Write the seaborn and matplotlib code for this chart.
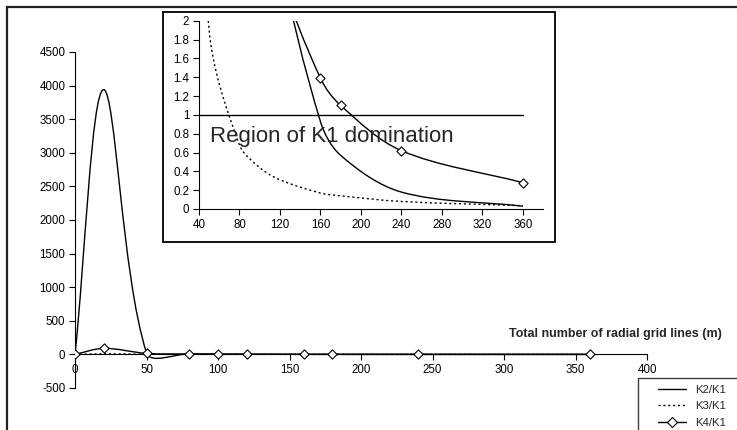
import numpy as np
import matplotlib
matplotlib.use("Agg")
import matplotlib.pyplot as plt
from matplotlib.path import Path
from matplotlib.patches import PathPatch, Rectangle
from matplotlib.lines import Line2D
from matplotlib.ticker import FuncFormatter
import seaborn as sns

# values
m = [0, 20, 50, 80, 100, 120, 160, 180, 240, 360]
k2_k1 = [0, 3940, 25, 8, 4.5, 2.7, 0.93, 0.57, 0.18, 0.03]
k3_k1 = [0, 8, 1.9, 0.68, 0.44, 0.31, 0.17, 0.14, 0.08, 0.035]
k4_k1 = [0, 90, 15, 5, 3.5, 2.5, 1.39, 1.1, 0.62, 0.28]
ref_x = [40, 360]
ref_y = [1, 1]

sns.set_style("white")
plt.rcParams["font.family"] = ["Liberation Sans", "DejaVu Sans"]
plt.rcParams["axes.unicode_minus"] = False

W, H = 737, 430
fig = plt.figure(figsize=(W / 100, H / 100), dpi=100)


def fbox(l, t, r, b):
    # pixel box -> figure fraction [left, bottom, width, height]
    return [l / W, 1 - b / H, (r - l) / W, (b - t) / H]


def smooth(ax, x, y, **kw):
    # excel-style smoothed line (bezier), control points from neighbours
    x = np.asarray(x, float)
    y = np.asarray(y, float)
    bb = ax.get_position()
    x0, x1 = ax.get_xlim()
    y0, y1 = ax.get_ylim()
    sx = bb.width * W / (x1 - x0)
    sy = bb.height * H / (y1 - y0)
    P = np.column_stack([x * sx, y * sy])
    n = len(P)
    d = [np.linalg.norm(P[i + 1] - P[i]) for i in range(n - 1)]
    verts = [P[0]]
    codes = [Path.MOVETO]
    for i in range(n - 1):
        p0 = P[max(i - 1, 0)]
        p3 = P[min(i + 2, n - 1)]
        da = d[i - 1] if i > 0 else 0
        db = d[i + 1] if i < n - 2 else 0
        c1 = P[i] + (P[i + 1] - p0) * d[i] / (da + d[i]) / 3
        c2 = P[i + 1] - (p3 - P[i]) * d[i] / (d[i] + db) / 3
        verts += [c1, c2, P[i + 1]]
        codes += [Path.CURVE4] * 3
    verts = np.array(verts) / [sx, sy]
    ax.add_patch(PathPatch(Path(verts, codes), fill=False, **kw))


def style(ax, fs=8):
    sns.despine(ax=ax)
    for s in ["left", "bottom"]:
        ax.spines[s].set_linewidth(0.8)
        ax.spines[s].set_color("black")
    ax.tick_params(direction="out", length=4, width=0.8, colors="black",
                   labelsize=fs, pad=3, left=True, bottom=True)
    ax.set_xlabel("")
    ax.set_ylabel("")


mk = dict(marker="D", s=22, color="white", edgecolor="black", linewidth=0.8,
          zorder=5, legend=False)

# main chart
ax = fig.add_axes(fbox(75, 52, 647, 388))
ax.set_zorder(0)
ax.set_xlim(0, 400)
ax.set_ylim(-500, 4500)
ax.set_xticks(range(0, 401, 50))
ax.set_yticks(range(-500, 4501, 500))
ax.spines["bottom"].set_position(("data", 0))
smooth(ax, m, k2_k1, color="black", lw=1.0)
smooth(ax, m, k3_k1, color="black", lw=1.0, ls=(0, (1.5, 2)))
smooth(ax, m, k4_k1, color="black", lw=1.0)
sns.scatterplot(x=m, y=k4_k1, ax=ax, **mk)
style(ax, 8.3)

fig.text(509 / W, 1 - 334 / H, "Total number of radial grid lines (m)",
         fontsize=9, fontweight="bold", ha="left", va="center")

# inset
fig.add_artist(Rectangle((163 / W, 1 - 242 / H), (555 - 163) / W, (242 - 12) / H,
                         transform=fig.transFigure, fc="white", ec="black",
                         lw=1.3, zorder=1))
ax2 = fig.add_axes(fbox(199, 20.7, 543, 209))
ax2.set_zorder(2)
ax2.patch.set_alpha(0)
ax2.set_xlim(40, 380)
ax2.set_ylim(0, 2)
ax2.set_xticks(range(40, 361, 40))
ax2.set_yticks(np.arange(0, 2.01, 0.2))
ax2.yaxis.set_major_formatter(FuncFormatter(lambda v, p: f"{v:g}"))
sns.lineplot(x=ref_x, y=ref_y, ax=ax2, color="black", lw=1.0)
smooth(ax2, m, k2_k1, color="black", lw=1.0)
smooth(ax2, m, k3_k1, color="black", lw=1.0, ls=(0, (1.5, 2)))
smooth(ax2, m, k4_k1, color="black", lw=1.0)
sns.scatterplot(x=m, y=k4_k1, ax=ax2, clip_on=True, **mk)
style(ax2, 8.3)
ax2.text(50.5, 0.775, "Region of K1 domination", fontsize=16,
         ha="left", va="center")

# outer frame
fig.add_artist(Rectangle((7 / W, -0.1), 1.2, 1.1 - 7 / H,
                         transform=fig.transFigure, fc="none", ec="#202020",
                         lw=1.6, zorder=3))

# legend
fig.add_artist(Rectangle((638 / W, -0.1), 1.2, 0.1 + 1 - 378 / H,
                         transform=fig.transFigure, fc="white", ec="#404040",
                         lw=1.0, zorder=3))
handles = [
    Line2D([], [], color="black", lw=1.0),
    Line2D([], [], color="black", lw=1.0, ls=(0, (1.5, 2))),
    Line2D([], [], color="black", lw=1.0, marker="D", ms=5,
           mfc="white", mec="black", mew=0.8),
]
leg = fig.legend(handles, ["K2/K1", "K3/K1", "K4/K1"], loc="upper left",
                 bbox_to_anchor=(658 / W, 1 - 385 / H), frameon=False,
                 fontsize=8.2, handlelength=2.5, handletextpad=0.8,
                 labelspacing=0.56, borderpad=0, borderaxespad=0)
leg.set_zorder(4)

fig.savefig("out.png", dpi=100)
